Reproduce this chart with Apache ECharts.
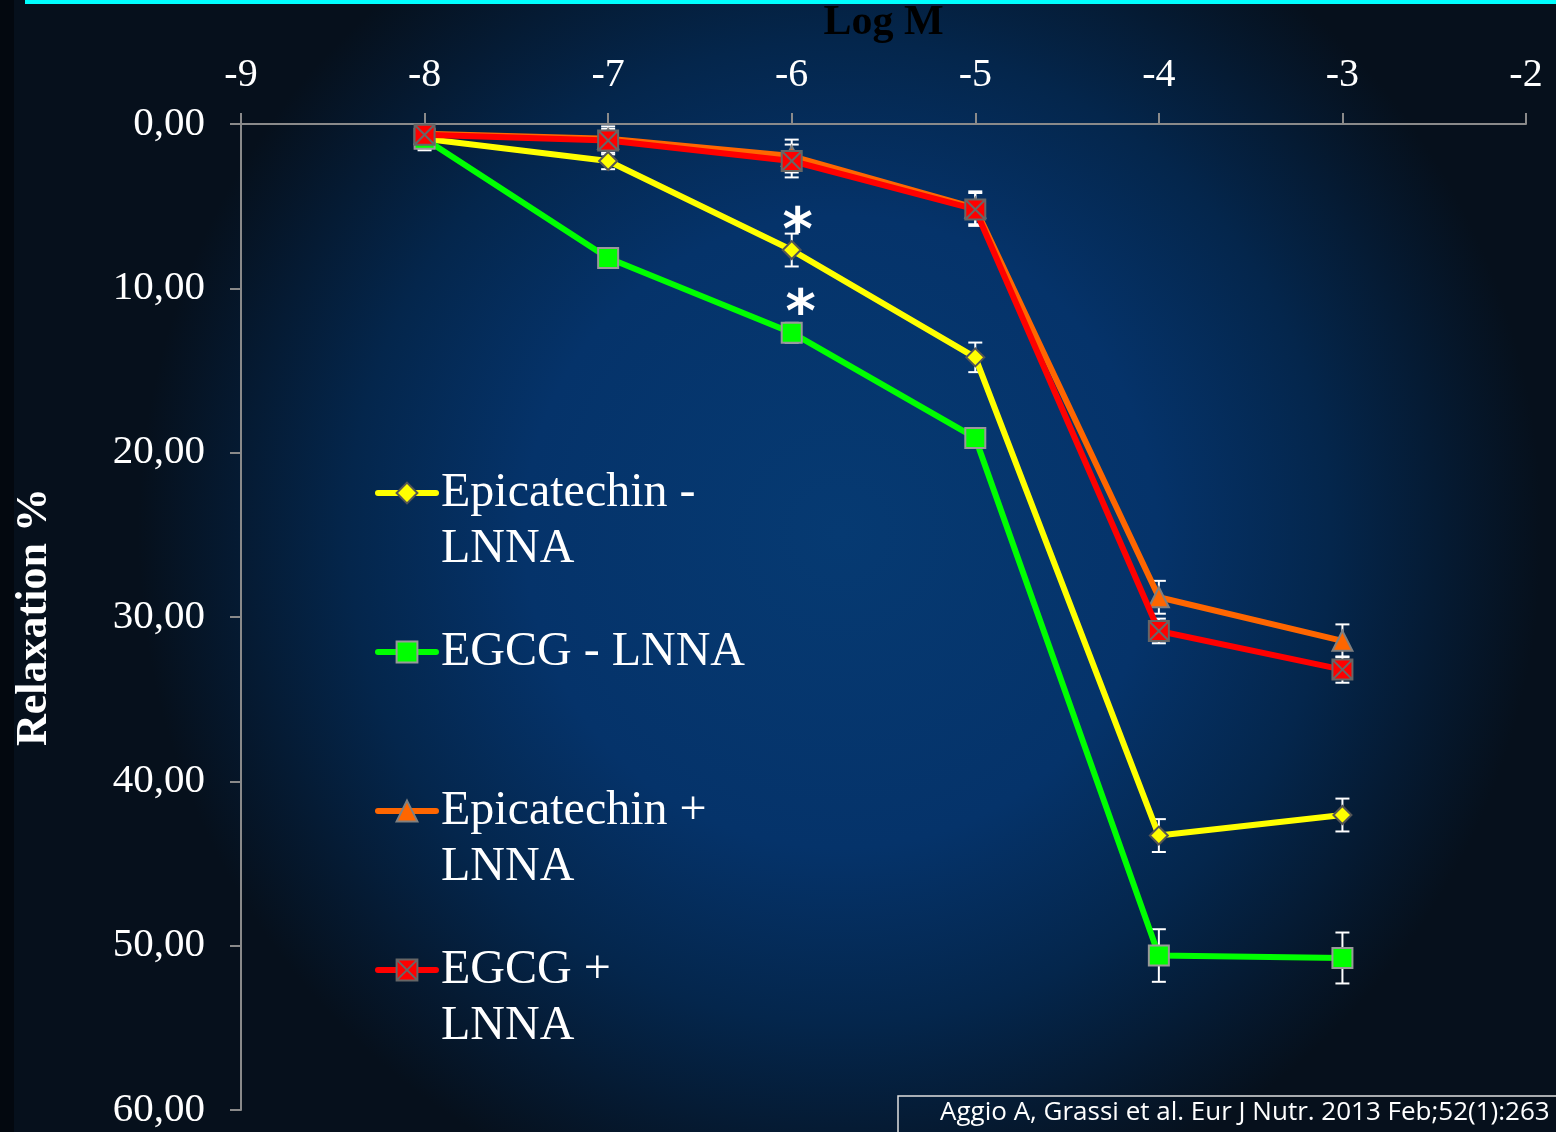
<!DOCTYPE html>
<html><head><meta charset="utf-8">
<script src="https://cdn.jsdelivr.net/npm/echarts@6/dist/echarts.min.js"></script>
<style>html,body{margin:0;padding:0;background:#050d18;}#c{width:1556px;height:1132px;}</style>
</head><body><div id="c"></div>
<script>
const logM = [-8, -7, -6, -5, -4, -3];
const xTicks = [-9, -8, -7, -6, -5, -4, -3, -2];
const yTicks = [0, 10, 20, 30, 40, 50, 60];
const seriesNames = ['Epicatechin - LNNA', 'EGCG - LNNA', 'Epicatechin + LNNA', 'EGCG + LNNA'];
const epiMinus = [0.9, 2.25, 7.67, 14.2, 43.3, 42.05];
const egcgMinus = [0.9, 8.15, 12.7, 19.1, 50.6, 50.75];
const epiPlus = [0.6, 0.9, 1.95, 5.1, 28.8, 31.45];
const egcgPlus = [0.65, 1.0, 2.25, 5.2, 30.85, 33.2];
const epiMinusErr = [0.7, 0.5, 1.0, 0.9, 1.0, 1.0];
const egcgMinusErr = [0.6, 0.5, 0.6, 0.6, 1.6, 1.55];
const epiPlusErr = [0.5, 0.6, 1.0, 1.0, 1.0, 1.0];
const egcgPlusErr = [0.5, 0.85, 1.0, 1.0, 0.75, 0.8];
const significance = [[-6, 7.67], [-6, 12.7]];
const citation = 'Aggio A, Grassi et al. Eur J Nutr. 2013 Feb;52(1):263';

const colors = ['#FFFF00', '#00FF00', '#FF6600', '#FF0000'];
const values = [epiMinus, egcgMinus, epiPlus, egcgPlus];
const errs = [epiMinusErr, egcgMinusErr, epiPlusErr, egcgPlusErr];
const symbols = ['diamond', 'rect', 'triangle', 'path://M0,0 L10,0 L10,10 L0,10 Z M0,0 L10,10 M10,0 L0,10'];
const symSizes = [18, 20, 20, 20];
const symBorders = ['#555555', '#999999', '#808080', '#666666'];
const serif = '"Liberation Serif", "Times New Roman", serif';

const chart = echarts.init(document.getElementById('c'));

const lineSeries = seriesNames.map((n, i) => ({
  name: n, type: 'line', z: 3 + i,
  data: logM.map((x, k) => [x, values[i][k]]),
  symbol: symbols[i], symbolSize: symSizes[i],
  lineStyle: {color: colors[i], width: 6},
  itemStyle: {color: colors[i], borderColor: symBorders[i], borderWidth: 2},
  emphasis: {disabled: true}
}));

const errSeries = seriesNames.map((n, i) => ({
  type: 'custom', z: 2, silent: true,
  data: logM.map((x, k) => [x, values[i][k] - errs[i][k], values[i][k] + errs[i][k]]),
  renderItem: function (params, api) {
    const x = api.value(0);
    const p1 = api.coord([x, api.value(1)]);
    const p2 = api.coord([x, api.value(2)]);
    const w = 7;
    const st = {stroke: '#FFFFFF', lineWidth: 2};
    return {type: 'group', children: [
      {type: 'line', shape: {x1: p1[0], y1: p1[1], x2: p2[0], y2: p2[1]}, style: st},
      {type: 'line', shape: {x1: p1[0] - w, y1: p1[1], x2: p1[0] + w, y2: p1[1]}, style: st},
      {type: 'line', shape: {x1: p2[0] - w, y1: p2[1], x2: p2[0] + w, y2: p2[1]}, style: st}
    ]};
  }
}));

const starOffsets = [[6, -16], [9, -17]];
const starSeries = {
  type: 'scatter', z: 10, silent: true,
  data: significance.map((p, k) => ({value: p, label: {offset: starOffsets[k]}})),
  symbolSize: 0,
  itemStyle: {color: 'transparent', opacity: 1},
  label: {show: true, formatter: '*', color: '#FFFFFF', fontFamily: '"DejaVu Sans", "Liberation Sans", sans-serif', fontWeight: 'bold', fontSize: 58,
    position: 'inside', lineHeight: 58, padding: [24, 0, 0, 0], textBorderWidth: 0, textBorderColor: 'transparent'}
};

const legendTops = [409, 624, 727, 886];
const legends = seriesNames.map((n, i) => ({
  data: [n], left: 375, top: legendTops[i], padding: 0,
  itemWidth: 58, itemHeight: 26, itemGap: 0, selectedMode: false,
  lineStyle: {width: 6, cap: 'round'},
  formatter: (name) => name === 'EGCG - LNNA' ? name : '\n' + name.replace(' LNNA', '\nLNNA'),
  textStyle: {color: '#FFFFFF', fontFamily: serif, fontSize: 48, lineHeight: 56}
}));

chart.setOption({
  animation: false,
  graphic: [
    {type: 'rect', z: -10, shape: {x: 0, y: 0, width: 1556, height: 1132},
      style: {fill: {type: 'radial', x: 0.54, y: 0.47, r: 0.62, colorStops: [
        {offset: 0, color: '#063a72'}, {offset: 0.45, color: '#05336a'}, {offset: 0.7, color: '#04264c'}, {offset: 1, color: '#06101c'}]}}},
    {type: 'rect', z: -9, shape: {x: 0, y: 0, width: 14, height: 1132}, style: {fill: '#03080f'}},
    {type: 'rect', z: 5, shape: {x: 25, y: 0, width: 1531, height: 4}, style: {fill: '#00FFFF'}},
    {type: 'rect', z: 5, shape: {x: 898, y: 1096, width: 700, height: 60}, style: {fill: 'transparent', stroke: '#E0E0E0', lineWidth: 1.5}},
    {type: 'text', z: 6, left: 940, top: 1100, style: {text: citation, fill: '#FFFFFF', font: '26px "Open Sans", sans-serif'}}
  ],
  grid: {left: 241, right: 30, top: 124, bottom: 22, containLabel: false, outerBoundsMode: 'none'},
  legend: legends,
  xAxis: {
    type: 'value', position: 'top', min: -9, max: -2, interval: 1,
    name: 'Log M', nameLocation: 'middle', nameGap: 80,
    nameTextStyle: {color: '#000000', fontFamily: serif, fontWeight: 'bold', fontSize: 42},
    axisLine: {show: true, onZero: false, lineStyle: {color: '#8a8a8a', width: 2}},
    axisTick: {show: true, length: 11, lineStyle: {color: '#8a8a8a', width: 2}},
    axisLabel: {color: '#FFFFFF', fontFamily: serif, fontSize: 40, margin: 29,
      formatter: v => xTicks.includes(v) ? String(v) : ''},
    splitLine: {show: false}
  },
  yAxis: {
    type: 'value', inverse: true, min: 0, max: 60, interval: 10,
    name: 'Relaxation %', nameLocation: 'middle', nameGap: 184, nameRotate: 90,
    nameTextStyle: {color: '#FFFFFF', fontFamily: serif, fontWeight: 'bold', fontSize: 44},
    axisLine: {show: true, onZero: false, lineStyle: {color: '#8a8a8a', width: 2}},
    axisTick: {show: true, length: 11, lineStyle: {color: '#8a8a8a', width: 2}},
    axisLabel: {color: '#FFFFFF', fontFamily: serif, fontSize: 41, margin: 36,
      formatter: v => yTicks.includes(v) ? v.toFixed(2).replace('.', ',') : ''},
    splitLine: {show: false}
  },
  series: [...errSeries, ...lineSeries, starSeries]
});
</script></body></html>
